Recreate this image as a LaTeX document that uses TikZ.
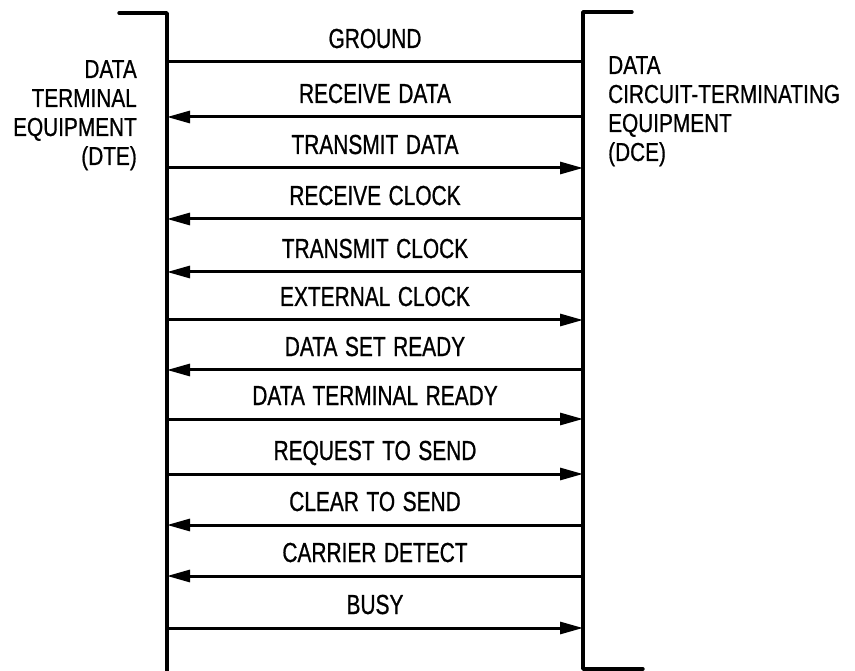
\documentclass[tikz,border=0pt]{standalone}
\usepackage{fontspec}
\setmainfont{Liberation Sans}[FakeStretch=0.8,FakeBold=0.7]
\newfontfamily\labfont{Liberation Sans}[FakeStretch=0.76,FakeBold=0.8,WordSpace=1.3]
\usetikzlibrary{arrows.meta}
\tikzset{
  sig/.style={line width=3pt},
  tip/.style={-{Triangle[length=23pt,width=12pt]}},
  rail/.style={line width=3.4pt,line cap=round,line join=round},
  lab/.style={anchor=base,inner sep=0pt,font=\labfont\fontsize{27.5}{29}\selectfont},
  side/.style={inner sep=0pt,font=\fontsize{26}{29}\selectfont},
}
\begin{document}
\begin{tikzpicture}[x=1pt,y=-1pt]
\useasboundingbox (0,0) rectangle (855,671);
% rails
\coordinate (TL0) at (119,13);
\coordinate (TL) at (167,13);
\coordinate (BL) at (167,671);
\coordinate (TR) at (583,12);
\coordinate (TR0) at (632,12);
\coordinate (BR) at (583,669);
\coordinate (BR0) at (643,669);
\draw[rail] (TL0) -- (TL) -- (BL);
\draw[rail] (TR0) -- (TR) -- (BR) -- (BR0);
% signal endpoints
\foreach \i/\y in {1/62,2/117,3/168,4/219,5/272,6/320,7/370,8/419,9/474,10/525,11/576,12/628}{
  \coordinate (L\i) at (167,\y);
  \coordinate (R\i) at (583,\y);
  \coordinate (M\i) at (375,\y-14);
}
% signals
\draw[sig] (L1) -- (R1);
\node[lab] (n1) at (M1) {GROUND};
\draw[sig,tip] (R2) -- (L2);
\node[lab] (n2) at (M2) {RECEIVE DATA};
\draw[sig,tip] (L3) -- (R3);
\node[lab] (n3) at (M3) {TRANSMIT DATA};
\draw[sig,tip] (R4) -- (L4);
\node[lab] (n4) at (M4) {RECEIVE CLOCK};
\draw[sig,tip] (R5) -- (L5);
\node[lab] (n5) at (M5) {TRANSMIT CLOCK};
\draw[sig,tip] (L6) -- (R6);
\node[lab] (n6) at (M6) {EXTERNAL CLOCK};
\draw[sig,tip] (R7) -- (L7);
\node[lab] (n7) at (M7) {DATA SET READY};
\draw[sig,tip] (L8) -- (R8);
\node[lab] (n8) at (M8) {DATA TERMINAL READY};
\draw[sig,tip] (L9) -- (R9);
\node[lab] (n9) at (M9) {REQUEST TO SEND};
\draw[sig,tip] (R10) -- (L10);
\node[lab] (n10) at (M10) {CLEAR TO SEND};
\draw[sig,tip] (R11) -- (L11);
\node[lab] (n11) at (M11) {CARRIER DETECT};
\draw[sig,tip] (L12) -- (R12);
\node[lab] (n12) at (M12) {BUSY};
% DTE label
\node[side,anchor=base east] (dte1) at (137,78) {DATA};
\node[side,anchor=base east] (dte2) at (137,107) {TERMINAL};
\node[side,anchor=base east] (dte3) at (137,136) {EQUIPMENT};
\node[side,anchor=base east] (dte4) at (137,165) {(DTE)};
% DCE label
\node[side,anchor=base west] (dce1) at (608,74) {DATA};
\node[side,anchor=base west] (dce2) at (608,103) {CIRCUIT-TERMINATING};
\node[side,anchor=base west] (dce3) at (608,132) {EQUIPMENT};
\node[side,anchor=base west] (dce4) at (608,161) {(DCE)};
\end{tikzpicture}
\end{document}
